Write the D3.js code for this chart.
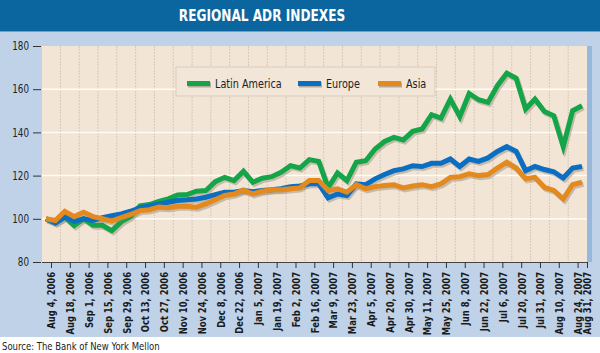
<!DOCTYPE html>
<html>
<head>
<meta charset="utf-8">
<script src="https://cdn.jsdelivr.net/npm/d3@7"></script>
<style>
body { margin: 0; background: #fff; }
text { font-family: "DejaVu Sans Condensed", "Liberation Sans Narrow", sans-serif; }
</style>
</head>
<body>
<script>
const w = 600;
const h = 353;

// tick labels on the x axis and the data index they sit on
const tickLabels = ["Aug 4, 2006", "Aug 18, 2006", "Sep 1, 2006", "Sep 15, 2006", "Sep 29, 2006",
    "Oct 13, 2006", "Oct 27, 2006", "Nov 10, 2006", "Nov 24, 2006", "Dec 8, 2006", "Dec 22, 2006",
    "Jan 5, 2007", "Jan 19, 2007", "Feb 2, 2007", "Feb 16, 2007", "Mar 9, 2007", "Mar 23, 2007",
    "Apr 5, 2007", "Apr 20, 2007", "Apr 30, 2007", "May 11, 2007", "May 25, 2007", "Jun 8, 2007",
    "Jun 22, 2007", "Jul 6, 2007", "Jul 20, 2007", "Jul 31, 2007", "Aug 10, 2007", "Aug 24, 2007",
    "Aug 31, 2007"];
const tickIndex = [0, 2, 4, 6, 8, 10, 12, 14, 16, 18, 20, 22, 24, 26, 28, 30, 32, 34, 36, 38,
    40, 42, 44, 46, 48, 50, 52, 54, 56, 57];
const gridIndex = [1, 3, 5, 7, 9, 11, 13, 15, 17, 19, 21, 23, 25, 27, 29, 31, 33, 35, 37, 39,
    41, 43, 45, 47, 49, 51, 53, 55];

const yTicks = [80, 100, 120, 140, 160, 180];
const yGrid = [100, 120, 140, 160];

const seriesNames = ["Latin America", "Europe", "Asia"];

const latinAmerica = [100, 98.4, 100.8, 96.9, 100, 97, 97, 94.5, 98.6, 101, 106, 106.6, 108, 109.2, 111, 111.2, 112.8, 113.1, 117.2, 119.2,
    117.7, 122, 116.9, 118.8, 119.5, 121.5, 124.6, 123.5, 127.4, 126.6,
    114.3, 121.2, 117.7, 126.2, 126.9, 132.3, 135.8, 137.7, 136.5, 140.5,
    141.6, 148.2, 146.6, 155.4, 147.3, 158, 155.1, 153.9, 161.6, 167.4,
    165.1, 150.8, 155.4, 149.7, 147.7, 133.4, 150, 152.3];
const europe = [100, 98, 100.8, 98.8, 100, 99.2, 100.5, 101.4, 102.3, 103.5, 105.1, 106, 106.9, 107.7, 108.5, 108.8, 109.2, 110, 111.2, 112.3,
    112.3, 113.1, 112.5, 113.1, 113.4, 113.9, 114.9, 115.2, 116.2, 116.2,
    109.7, 111.5, 110.8, 116.2, 115.8, 118.5, 120.5, 122.3, 123.1, 124.6,
    124.2, 125.7, 125.7, 127.7, 124.2, 127.7, 126.6, 128.2, 131.2, 133.4,
    131.2, 122.3, 124.2, 122.8, 121.8, 118.9, 123.5, 124.2];
const asia = [100, 99.2, 103.5, 101, 103, 101, 100, 98.9, 100.5, 102, 103.8, 104.2, 105.4, 105.1, 105.8, 105.8, 105.4, 106.9, 108.8, 110.8,
    111.5, 113.4, 111.5, 112.8, 113.4, 113.5, 113.9, 114.3, 117.7, 117.7,
    113.1, 113.9, 112.3, 115.8, 113.9, 114.9, 115.4, 115.8, 114.3, 115.2,
    115.8, 114.9, 116.2, 119.2, 119.5, 120.8, 120, 120.5, 123.5, 126.2,
    123.5, 118.5, 119.2, 114.6, 113.1, 109.2, 115.8, 116.9];

const colors = ["#14a548", "#0a6fc2", "#e3891d"];

// squeeze a text horizontally (the original uses a narrow DIN-like face)
function squeeze(sel, k, x, extra) {
    sel.attr("x", x / k)
        .attr("transform", (extra || "") + " scale(" + k + ",1)");
}

const svg = d3.select("body")
    .append("svg")
    .attr("width", w)
    .attr("height", h);

// backgrounds
svg.append("rect").attr("width", w).attr("height", h).attr("fill", "#fff");
svg.append("rect").attr("x", 0).attr("y", 31).attr("width", w).attr("height", 306).attr("fill", "#bfd2e8");
svg.append("rect").attr("x", 0).attr("y", 0).attr("width", w).attr("height", 31).attr("fill", "#0b66a0");
svg.append("rect").attr("x", 0).attr("y", 31).attr("width", w).attr("height", 1).attr("fill", "#6f9fc8");

svg.append("text")
    .attr("y", 21)
    .attr("text-anchor", "middle")
    .attr("fill", "#fff")
    .attr("font-size", 15)
    .attr("font-weight", "bold")
    .text("REGIONAL ADR INDEXES")
    .call(squeeze, 0.9, 262);

const plotLeft = 42, plotRight = 587, plotTop = 46, plotBottom = 262;

svg.append("rect").attr("x", plotRight).attr("y", plotTop).attr("width", 5).attr("height", plotBottom - plotTop).attr("fill", "#98b7dd");
svg.append("rect").attr("x", plotLeft).attr("y", plotTop).attr("width", plotRight - plotLeft).attr("height", plotBottom - plotTop).attr("fill", "#f2e5d6");

const xAxisScale = d3.scaleLinear().domain([0, 57]).range([51, 587]);
const xLine = d3.scaleLinear().domain([0, 57]).range([46, 582]);
const yScale = d3.scaleLinear().domain([80, 180]).range([plotBottom, plotTop]);

// vertical grid
svg.selectAll(".vgrid")
    .data(gridIndex)
    .enter()
    .append("line")
    .attr("class", "vgrid")
    .attr("x1", d => xAxisScale(d)).attr("x2", d => xAxisScale(d))
    .attr("y1", plotTop).attr("y2", plotBottom)
    .attr("stroke", "#d6c9ba")
    .attr("stroke-width", 1)
    .attr("stroke-dasharray", "2,1");

// horizontal grid
svg.selectAll(".hgrid")
    .data(yGrid)
    .enter()
    .append("line")
    .attr("class", "hgrid")
    .attr("x1", plotLeft).attr("x2", plotRight)
    .attr("y1", d => yScale(d)).attr("y2", d => yScale(d))
    .attr("stroke", "#fffbf5")
    .attr("stroke-width", 1.5);

// y axis
const yAxis = d3.axisLeft(yScale).tickValues(yTicks).tickSize(8).tickPadding(4);
const gy = svg.append("g")
    .attr("transform", "translate(" + (plotLeft - 1) + ",0)")
    .call(yAxis);
gy.select(".domain").remove();
gy.selectAll("line").attr("stroke", "#333");
gy.selectAll("text")
    .attr("font-size", 11.5)
    .attr("fill", "#222")
    .style("font-family", null)
    .call(squeeze, 0.85, -12);

// x axis
const xAxis = d3.axisBottom(xAxisScale)
    .tickValues(tickIndex)
    .tickFormat((d, i) => tickLabels[i])
    .tickSize(6)
    .tickSizeOuter(0);
const gx = svg.append("g")
    .attr("transform", "translate(0," + plotBottom + ")")
    .call(xAxis);
gx.attr("font-family", null);
gy.attr("font-family", null);
gx.select(".domain").attr("d", "M" + plotLeft + ",0.5H" + plotRight).attr("stroke", "#444");
gx.selectAll("line").attr("stroke", "#333");
gx.selectAll("text")
    .attr("font-size", 11)
    .attr("font-weight", "bold")
    .attr("fill", "#1a1a1a")
    .attr("text-anchor", "end")
    .attr("y", 0)
    .attr("dy", "0.35em")
    .call(squeeze, 0.85, -10, "rotate(-90)");

// lines
const allSeries = [latinAmerica, europe, asia];
const line = d3.line()
    .x((d, i) => xLine(i))
    .y(d => yScale(d));

const lines = svg.append("g");
allSeries.forEach((s, k) => {
    lines.append("path")
        .attr("d", line(s))
        .attr("fill", "none")
        .attr("stroke", "#a99c8e")
        .attr("stroke-opacity", 0.6)
        .attr("stroke-width", 5)
        .attr("stroke-linejoin", "miter")
        .attr("transform", "translate(1.5,2)");
});
allSeries.forEach((s, k) => {
    lines.append("path")
        .attr("d", line(s))
        .attr("fill", "none")
        .attr("stroke", colors[k])
        .attr("stroke-width", 5)
        .attr("stroke-linejoin", "miter");
});

// legend
const legend = svg.append("g");
legend.append("rect")
    .attr("x", 176).attr("y", 67).attr("width", 259).attr("height", 29)
    .attr("fill", "#f2e6d8")
    .attr("stroke", "#d9ccbd")
    .attr("stroke-width", 1);
const legendX = [187, 298, 378];
seriesNames.forEach((name, k) => {
    legend.append("rect")
        .attr("x", legendX[k] + 1).attr("y", 82.5).attr("width", 23).attr("height", 5)
        .attr("fill", "#b5a898");
    legend.append("rect")
        .attr("x", legendX[k]).attr("y", 81).attr("width", 23).attr("height", 5)
        .attr("fill", colors[k]);
    legend.append("text")
        .attr("y", 88)
        .attr("font-size", 12.5)
        .attr("fill", "#222")
        .text(name)
        .call(squeeze, 0.86, legendX[k] + 28);
});

svg.append("text")
    .attr("y", 350)
    .attr("font-size", 11)
    .attr("fill", "#222")
    .text("Source: The Bank of New York Mellon")
    .call(squeeze, 0.86, 2);
</script>
</body>
</html>
